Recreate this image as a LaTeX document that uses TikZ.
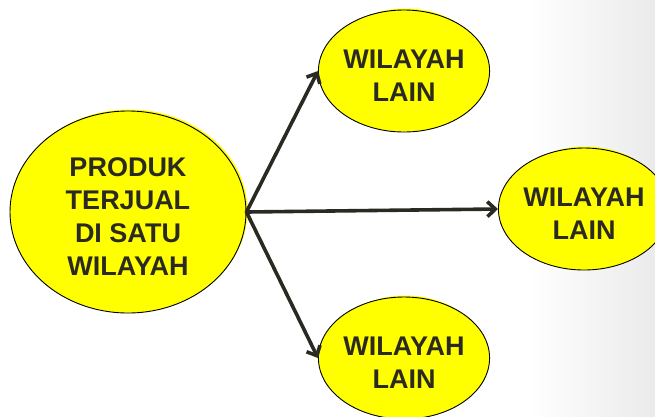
\documentclass[tikz,border=0pt]{standalone}
\usepackage{fontspec}
\setmainfont{Liberation Sans}
\usetikzlibrary{shapes.geometric,arrows.meta}
\definecolor{ink}{HTML}{2B2A22}
\definecolor{yel}{HTML}{FFFF00}
\newcommand{\tallstrut}{\rule{0pt}{28pt}}
\begin{document}
\begin{tikzpicture}[x=1pt,y=-1pt,
  bubble/.style={ellipse,draw=black,line width=0.9pt,fill=yel,inner sep=0pt,
    align=center,text=ink,font=\fontsize{27}{33}\selectfont\bfseries},
  halo/.style={ellipse,fill=yel,inner sep=0pt},
  conn/.style={draw=ink,line width=3.6pt,line cap=round,
    -{Straight Barb[length=8pt,width=15pt,line width=3.6pt]}}]
\useasboundingbox (0,0) rectangle (655,416);
\shade[left color=white,right color=black!8] (530,0) rectangle (655,416);
% halos
\node[halo,minimum width=236pt,minimum height=202pt] at (129.5,210.5) {};
\node[halo,minimum width=160pt,minimum height=122pt] at (405.5,69.5) {};
\node[halo,minimum width=160pt,minimum height=122pt] at (585.5,207.5) {};
\node[halo,minimum width=160pt,minimum height=122pt] at (405.5,356.5) {};
% ellipses
\node[bubble,minimum width=236pt,minimum height=202pt] (src) at (128,212)
  {\tallstrut PRODUK\\TERJUAL\\DI SATU\\WILAYAH};
\node[bubble,minimum width=160pt,minimum height=122pt] (top) at (404,71) {\tallstrut WILAYAH\\LAIN};
\node[bubble,minimum width=160pt,minimum height=122pt] (mid) at (584,209) {\tallstrut WILAYAH\\LAIN};
\node[bubble,minimum width=160pt,minimum height=122pt] (bot) at (404,358) {\tallstrut WILAYAH\\LAIN};
% connectors
\draw[conn] (src.east) -- (top.west);
\draw[conn] (src.east) -- (mid.west);
\draw[conn] (src.east) -- (bot.west);
\end{tikzpicture}
\end{document}
